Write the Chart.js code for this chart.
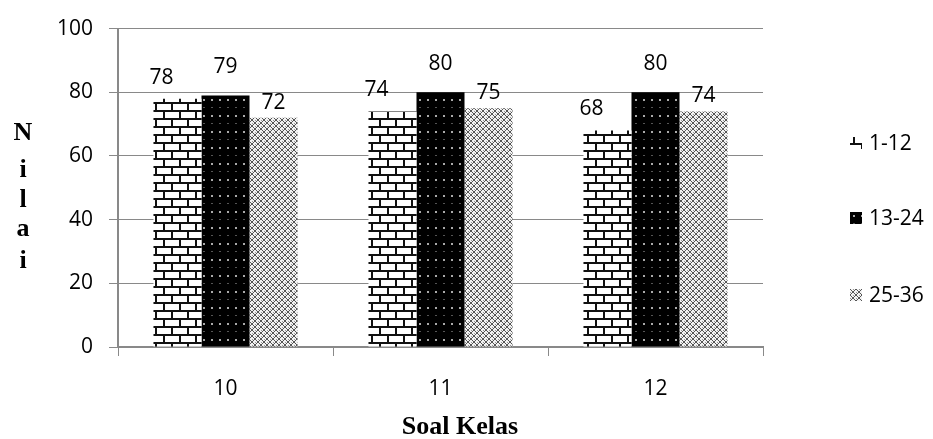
<!DOCTYPE html>
<html>
<head>
<meta charset="utf-8">
<script src="https://cdn.jsdelivr.net/npm/chart.js@4.4.1/dist/chart.umd.min.js"></script>
<style>
html,body{margin:0;padding:0;background:#fff;}
#wrap{width:933px;height:439px;position:relative;}
</style>
</head>
<body>
<div id="wrap"><canvas id="c" width="933" height="439"></canvas></div>
<script>
const categories = ['10', '11', '12'];
const seriesNames = ['1-12', '13-24', '25-36'];
const series1 = [78, 74, 68];
const series2 = [79, 80, 80];
const series3 = [72, 75, 74];
const yTicks = [0, 20, 40, 60, 80, 100];
const yTitle = 'Nilai';
const xTitle = 'Soal Kelas';

const SANS = '"Open Sans", Lato, sans-serif';
const SERIF = '"Liberation Serif", "DejaVu Serif", serif';

function makeTile(w, h, draw) {
  const c = document.createElement('canvas');
  c.width = w; c.height = h;
  const g = c.getContext('2d');
  draw(g);
  return document.getElementById('c').getContext('2d').createPattern(c, 'repeat');
}
const brick = makeTile(16, 16, g => {
  g.fillStyle = '#fff'; g.fillRect(0, 0, 16, 16);
  g.fillStyle = '#111';
  g.fillRect(0, 6, 16, 2);
  g.fillRect(0, 14, 16, 2);
  g.fillRect(3, 0, 2, 6);
  g.fillRect(11, 8, 2, 6);
});
const dots = makeTile(8, 16, g => {
  g.fillStyle = '#000'; g.fillRect(0, 0, 8, 16);
  g.fillStyle = '#aaa'; g.fillRect(3, 3, 2, 2);
  g.fillStyle = '#555'; g.fillRect(3, 11, 2, 1);
});
const cross = makeTile(6, 6, g => {
  g.fillStyle = '#f2f2f2'; g.fillRect(0, 0, 6, 6);
  g.fillStyle = '#555';
  g.fillRect(0, 0, 1, 1); g.fillRect(1, 1, 1, 1); g.fillRect(2, 2, 2, 2);
  g.fillRect(4, 1, 1, 1); g.fillRect(5, 0, 1, 1);
  g.fillRect(1, 4, 1, 1); g.fillRect(0, 5, 1, 1);
  g.fillRect(4, 4, 1, 1); g.fillRect(5, 5, 1, 1);
  g.fillStyle = '#999';
  g.fillRect(3, 0, 1, 1); g.fillRect(0, 3, 1, 1);
});

const labelOffsets = [{dx: -16, dy: -21}, {dx: 0, dy: -28}, {dx: 0, dy: -15}];

const overlay = {
  id: 'overlay',
  afterDatasetsDraw(chart) {
    const ctx = chart.ctx;
    ctx.save();
    // data labels
    ctx.font = '21px ' + SANS;
    ctx.fillStyle = '#000';
    ctx.textAlign = 'center';
    ctx.textBaseline = 'middle';
    chart.data.datasets.forEach((ds, i) => {
      const meta = chart.getDatasetMeta(i);
      meta.data.forEach((bar, j) => {
        ctx.fillText(String(ds.data[j]), bar.x + labelOffsets[i].dx, bar.y + labelOffsets[i].dy);
      });
    });
    // y title stacked letters
    ctx.font = 'bold 26px ' + SERIF;
    ctx.textBaseline = 'alphabetic';
    const letters = yTitle.split('');
    const ys = [140, 177, 207, 236, 268];
    letters.forEach((ch, k) => ctx.fillText(ch, 23, ys[k]));
    // x title
    ctx.font = 'bold 26px ' + SERIF;
    ctx.fillText(xTitle, 460, 434);
    // legend
    ctx.font = '21px ' + SANS;
    ctx.textAlign = 'left';
    ctx.textBaseline = 'middle';
    const ly = [143, 218, 295];
    chart.data.datasets.forEach((ds, i) => {
      ctx.save();
      ctx.translate(850, ly[i] - 6);
      ctx.fillStyle = ds.backgroundColor;
      ctx.fillRect(0, 0, 12, 12);
      ctx.restore();
      ctx.fillStyle = '#000';
      ctx.fillText(ds.label, 869, ly[i] + 1);
    });
    ctx.restore();
  }
};

new Chart(document.getElementById('c'), {
  type: 'bar',
  data: {
    labels: categories,
    datasets: [
      {label: seriesNames[0], data: series1, backgroundColor: brick},
      {label: seriesNames[1], data: series2, backgroundColor: dots},
      {label: seriesNames[2], data: series3, backgroundColor: cross}
    ]
  },
  options: {
    responsive: false,
    animation: false,
    events: [],
    layout: {padding: {left: 0, right: 170, top: 23, bottom: 0}},
    datasets: {bar: {barPercentage: 1, categoryPercentage: 0.67}},
    plugins: {legend: {display: false}, tooltip: {enabled: false}},
    scales: {
      x: {
        offset: true,
        grid: {offset: true, drawOnChartArea: false, drawTicks: true, tickLength: 9, color: '#898989', lineWidth: 1},
        border: {display: true, color: '#898989', width: 2},
        ticks: {padding: 20, color: '#000', font: {family: SANS, size: 21}},
        afterFit(s) { s.height = 439 - 347; }
      },
      y: {
        min: 0, max: 100,
        afterBuildTicks(s) { s.ticks = yTicks.map(v => ({value: v})); },
        grid: {color: '#898989', lineWidth: 1, drawTicks: true, tickLength: 9},
        border: {display: true, color: '#898989', width: 2},
        ticks: {padding: 16, color: '#000', font: {family: SANS, size: 21}},
        afterFit(s) { s.width = 118; }
      }
    }
  },
  plugins: [overlay]
});
</script>
</body>
</html>
